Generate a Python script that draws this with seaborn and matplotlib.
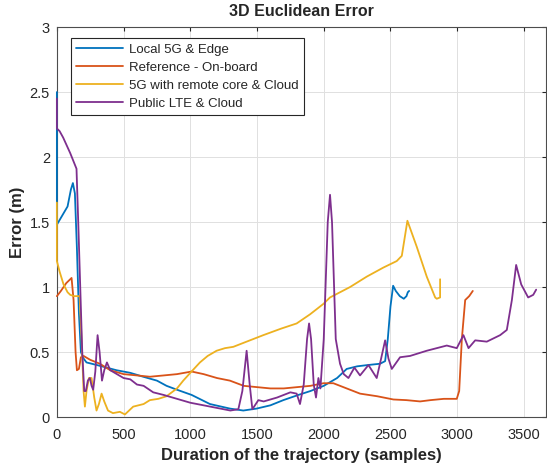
import pandas as pd
import numpy as np
import matplotlib
matplotlib.use("Agg")
import matplotlib.pyplot as plt
import seaborn as sns

# valores (amostra, erro em m)
x_edge = [0, 0, 40, 80, 105, 120, 135, 150, 165, 180, 200, 222, 300, 447, 550, 647, 750, 822, 900,
          1010, 1147, 1297, 1397, 1497, 1600, 1697, 1810, 1900, 2000, 2100, 2172, 2250, 2330, 2422,
          2460, 2480, 2500, 2520, 2540, 2570, 2600, 2620, 2630, 2640]
y_edge = [2.5, 1.48, 1.55, 1.62, 1.75, 1.8, 1.72, 1.3, 0.8, 0.5, 0.45, 0.42, 0.40, 0.36, 0.34, 0.31,
          0.28, 0.24, 0.21, 0.17, 0.10, 0.065, 0.05, 0.065, 0.09, 0.13, 0.17, 0.2, 0.24, 0.3, 0.37,
          0.39, 0.40, 0.41, 0.43, 0.6, 0.85, 1.01, 0.97, 0.93, 0.91, 0.93, 0.96, 0.97]

x_ref = [0, 30, 70, 110, 125, 140, 150, 165, 180, 200, 250, 322, 400, 500, 600, 697, 800, 900,
         1010, 1100, 1200, 1297, 1400, 1500, 1600, 1700, 1800, 1900, 1997, 2072, 2172, 2272, 2400,
         2522, 2620, 2722, 2800, 2900, 2997, 3015, 3035, 3060, 3090, 3117]
y_ref = [0.93, 0.97, 1.03, 1.07, 0.9, 0.5, 0.36, 0.37, 0.46, 0.47, 0.44, 0.41, 0.36, 0.33, 0.32,
         0.31, 0.32, 0.33, 0.35, 0.33, 0.30, 0.28, 0.24, 0.23, 0.22, 0.22, 0.23, 0.24, 0.26, 0.26,
         0.22, 0.18, 0.16, 0.135, 0.13, 0.12, 0.13, 0.14, 0.14, 0.2, 0.6, 0.9, 0.93, 0.97]

x_5g = [0, 0, 20, 50, 80, 100, 130, 170, 185, 200, 210, 222, 240, 260, 280, 297, 315, 335, 355,
        383, 420, 472, 510, 572, 650, 697, 760, 822, 900, 947, 1000, 1072, 1130, 1197, 1260, 1322,
        1447, 1547, 1680, 1797, 1897, 1997, 2047, 2197, 2322, 2447, 2547, 2585, 2627, 2697, 2772,
        2835, 2847, 2872, 2872]
y_5g = [1.65, 1.2, 1.12, 1.02, 0.96, 0.94, 0.93, 0.93, 0.6, 0.2, 0.08, 0.2, 0.3, 0.3, 0.15, 0.05,
        0.1, 0.18, 0.12, 0.05, 0.03, 0.04, 0.02, 0.08, 0.1, 0.13, 0.14, 0.16, 0.22, 0.28, 0.34, 0.42,
        0.47, 0.51, 0.53, 0.54, 0.59, 0.63, 0.68, 0.72, 0.79, 0.87, 0.92, 1.0, 1.08, 1.15, 1.2, 1.24,
        1.51, 1.31, 1.08, 0.92, 0.91, 0.92, 1.06]

x_lte = [0, 0, 20, 47, 100, 147, 160, 175, 190, 205, 217, 232, 247, 260, 272, 288, 305, 320, 338,
         355, 375, 400, 450, 500, 550, 600, 650, 722, 800, 900, 1000, 1100, 1200, 1300, 1360, 1390,
         1422, 1445, 1465, 1510, 1550, 1650, 1750, 1797, 1822, 1850, 1875, 1890, 1905, 1925, 1942,
         1960, 1975, 2000, 2030, 2047, 2062, 2090, 2122, 2150, 2185, 2230, 2272, 2335, 2397, 2430,
         2460, 2485, 2510, 2572, 2647, 2772, 2922, 2997, 3047, 3085, 3135, 3222, 3322, 3372, 3410,
         3442, 3480, 3532, 3570, 3592]
y_lte = [2.45, 2.22, 2.2, 2.15, 2.03, 1.91, 1.5, 1.0, 0.5, 0.2, 0.2, 0.28, 0.3, 0.24, 0.21, 0.35,
         0.63, 0.5, 0.28, 0.36, 0.42, 0.36, 0.33, 0.3, 0.29, 0.25, 0.24, 0.19, 0.17, 0.14, 0.11, 0.09,
         0.07, 0.05, 0.06, 0.2, 0.51, 0.25, 0.06, 0.13, 0.12, 0.15, 0.19, 0.18, 0.1, 0.25, 0.6, 0.72,
         0.6, 0.25, 0.15, 0.3, 0.22, 0.6, 1.5, 1.71, 1.5, 0.6, 0.41, 0.33, 0.30, 0.38, 0.32, 0.40,
         0.30, 0.45, 0.59, 0.45, 0.37, 0.46, 0.47, 0.51, 0.55, 0.53, 0.63, 0.53, 0.59, 0.58, 0.63,
         0.67, 0.9, 1.17, 1.02, 0.92, 0.94, 0.98]

series = ['Local 5G & Edge', 'Reference - On-board', '5G with remote core & Cloud', 'Public LTE & Cloud']
cores = ['#0072BD', '#D95319', '#EDB120', '#7E2F8E']

partes = []
for nome, xs, ys in zip(series, [x_edge, x_ref, x_5g, x_lte], [y_edge, y_ref, y_5g, y_lte]):
    partes.append(pd.DataFrame({'amostra': xs, 'erro': ys, 'serie': nome}))
df = pd.concat(partes, ignore_index=True)

sns.set_style("whitegrid")
plt.rcParams['font.family'] = ['Liberation Sans', 'DejaVu Sans']

fig = plt.figure(figsize=(5.47, 4.67), dpi=100)
ax = fig.add_axes([0.104, 0.107, 0.894, 0.835])

sns.lineplot(data=df, x='amostra', y='erro', hue='serie', hue_order=series,
             palette=dict(zip(series, cores)), sort=False, estimator=None,
             linewidth=1.3, ax=ax)
# linhas por cima das bordas (o trecho vertical em x=0 fica visível)
for ln in ax.lines:
    ln.set_zorder(3)
    ln.set_clip_on(False)

ax.set_xlim(0, 3665)
ax.set_ylim(0, 3)
ax.set_xticks(np.arange(0, 3501, 500))
ax.set_yticks(np.arange(0, 3.01, 0.5))
ax.set_yticklabels(['0', '0.5', '1', '1.5', '2', '2.5', '3'])
ax.grid(True, color='#e0e0e0', linewidth=0.7)
ax.tick_params(axis='both', which='both', direction='in', length=3, labelsize=10.5,
               colors='#262626', top=True, right=True, labelcolor='#262626')
ax.tick_params(axis='x', pad=8)
ax.tick_params(axis='y', pad=5)
for s in ax.spines.values():
    s.set_visible(True)
    s.set_color('#4d4d4d')
    s.set_linewidth(0.8)

ax.set_title('3D Euclidean Error', fontsize=11.5, fontweight='bold', pad=8)
ax.set_xlabel('Duration of the trajectory (samples)', fontsize=12, fontweight='bold', labelpad=4)
ax.set_ylabel('Error (m)', fontsize=12, fontweight='bold', labelpad=3)

leg = ax.legend(loc='upper left', bbox_to_anchor=(0.029, 0.972), borderaxespad=0,
                fontsize=9.5, handlelength=3.5, handletextpad=0.5, frameon=True, fancybox=False,
                framealpha=1, edgecolor='#262626', borderpad=0.4, labelspacing=0.45)
leg.get_frame().set_linewidth(0.8)

plt.savefig('out.png', dpi=100)
